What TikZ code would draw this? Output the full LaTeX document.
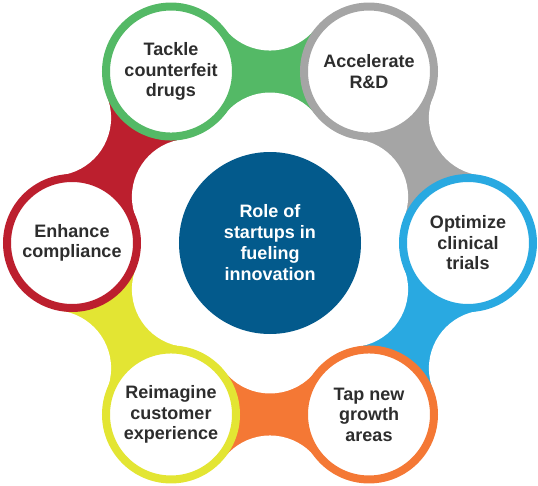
\documentclass[tikz,border=0pt]{standalone}
\usepackage{fontspec}
\setmainfont{Liberation Sans}
\usetikzlibrary{calc, backgrounds}
\definecolor{hubblue}{HTML}{035A8C}
\definecolor{petalgreen}{HTML}{54B966}
\definecolor{petalgray}{HTML}{A5A5A5}
\definecolor{petalblue}{HTML}{29A9E1}
\definecolor{petalorange}{HTML}{F47835}
\definecolor{petalyellow}{HTML}{E3E533}
\definecolor{petalred}{HTML}{BC1F2E}
\definecolor{labelgray}{HTML}{2D2D2D}
\tikzstyle{petal} = [circle, minimum size=130pt, inner sep=0pt, line width=8pt, fill=white, align=center, text=labelgray, font=\fontsize{18}{20.5}\selectfont\bfseries]
\tikzstyle{hub} = [circle, minimum size=182pt, inner sep=0pt, fill=hubblue, text=white, align=center, font=\fontsize{18}{21}\selectfont\bfseries]
\newcommand{\bridge}[3]{%
  \coordinate (m) at ($(#1)!0.5!(#2)$);
  \coordinate (cl) at ($(m)!79pt!90:(#2)$);
  \coordinate (cr) at ($(m)!79pt!-90:(#2)$);
  \begin{scope}
    \clip (#1.center) -- (cl) -- (#2.center) -- (cr) -- cycle;
    \fill[#3] (#1.center) -- (cl) -- (#2.center) -- (cr) -- cycle;
  \end{scope}
  \fill[white] (cl) circle (58pt) (cr) circle (58pt);}

\begin{document}
\begin{tikzpicture}[x=1pt,y=1pt]
\useasboundingbox (-270,-242) rectangle (268,243);
\node[hub] (hub) at (0,0) {Role of\\startups in\\fueling\\innovation};
\node[petal, draw=petalgreen] (tackle) at (120:198pt) {Tackle\\counterfeit\\drugs};
\node[petal, draw=petalgray] (accel) at (60:198pt) {Accelerate\\R\&D};
\node[petal, draw=petalblue] (optim) at (0:198pt) {Optimize\\clinical\\trials};
\node[petal, draw=petalorange] (tap) at (-60:198pt) {Tap new\\growth\\areas};
\node[petal, draw=petalyellow] (reimag) at (-120:198pt) {Reimagine\\customer\\experience};
\node[petal, draw=petalred] (enhance) at (180:198pt) {Enhance\\compliance};
\begin{scope}[on background layer]
\bridge{tackle}{accel}{petalgreen}
\bridge{accel}{optim}{petalgray}
\bridge{optim}{tap}{petalblue}
\bridge{tap}{reimag}{petalorange}
\bridge{reimag}{enhance}{petalyellow}
\bridge{enhance}{tackle}{petalred}
\end{scope}
\end{tikzpicture}
\end{document}
